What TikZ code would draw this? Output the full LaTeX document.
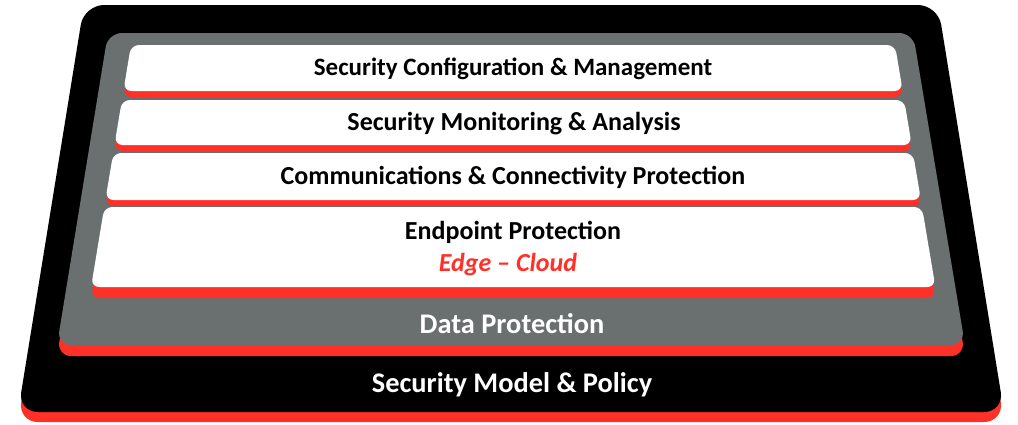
\documentclass[tikz,border=0pt]{standalone}
\usepackage{fontspec}
\setmainfont{Carlito}
\definecolor{lred}{RGB}{255,48,40}
\definecolor{lgray}{RGB}{106,112,111}
\newcommand{\trapz}[8]{\fill[#1,rounded corners=#8] (#4,#2) -- (#6,#2) -- (#7,#3) -- (#5,#3) -- cycle;}
\begin{document}
\begin{tikzpicture}[x=0.5pt,y=-0.5pt,
  lbl/.style={font=\fontsize{13}{15}\selectfont\bfseries, inner sep=0pt},
  wlbl/.style={font=\fontsize{14.2}{16}\selectfont\bfseries, inner sep=0pt, text=white}]
\useasboundingbox (0,0) rectangle (1018,424);
% outer black layer
\trapz{lred,yshift=-5pt}{5}{412}{84}{18}{938}{1004}{10pt}
\trapz{black}{5}{412}{84}{18}{938}{1004}{10pt}
% gray layer
\trapz{lred,yshift=-5.5pt}{33}{345}{108}{57}{913}{965}{7pt}
\trapz{lgray}{33}{345}{108}{57}{913}{965}{7pt}
% white boxes
\trapz{lred,yshift=-3pt}{45}{91}{131}{123.4}{895}{902.7}{4pt}
\trapz{white}{45}{91}{131}{123.4}{895}{902.7}{4pt}
\trapz{lred,yshift=-3pt}{100}{145}{121.9}{114.5}{904.2}{911.7}{4pt}
\trapz{white}{100}{145}{121.9}{114.5}{904.2}{911.7}{4pt}
\trapz{lred,yshift=-3pt}{153}{200}{113.2}{105.4}{913}{920.9}{4pt}
\trapz{white}{153}{200}{113.2}{105.4}{913}{920.9}{4pt}
\trapz{lred,yshift=-5.5pt}{207}{287}{104.3}{91.1}{922}{935.4}{4pt}
\trapz{white}{207}{287}{104.3}{91.1}{922}{935.4}{4pt}
% labels
\node[lbl, font=\fontsize{12.5}{14}\selectfont\bfseries] (t1) at (513,69) {Security Configuration \& Management};
\node[lbl] (t2) at (514,124) {Security Monitoring \& Analysis};
\node[lbl] (t3) at (513,177) {Communications \& Connectivity Protection};
\node[lbl] (t4) at (513,232) {Endpoint Protection};
\node[lbl, text=lred, font=\fontsize{13}{15}\selectfont\bfseries\itshape] (t5) at (508,265) {Edge – Cloud};
\node[wlbl] (t6) at (512,324) {Data Protection};
\node[wlbl] (t7) at (512,385) {Security Model \& Policy};
\end{tikzpicture}
\end{document}
